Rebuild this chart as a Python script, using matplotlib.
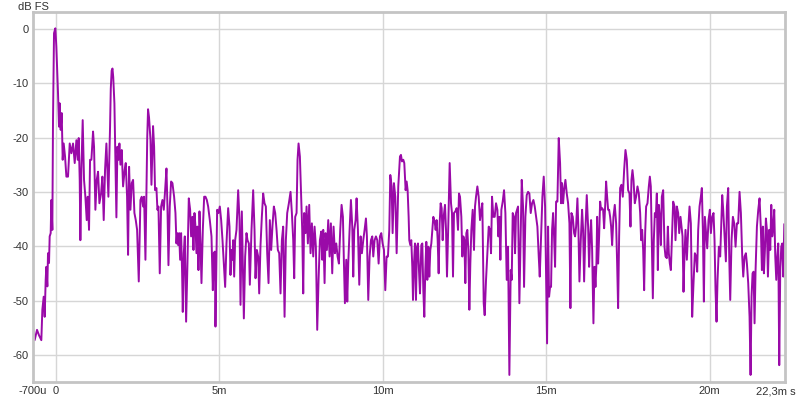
import matplotlib
matplotlib.use("Agg")
import matplotlib.pyplot as plt
from matplotlib.transforms import ScaledTranslation

# impulse response: time in ms, level in dB FS
time_ms = [
    -0.700, -0.643, -0.571, -0.510, -0.439, -0.408, -0.367, -0.337, -0.306, -0.286,
    -0.255, -0.235, -0.204, -0.184, -0.153, -0.133, -0.102, -0.082, -0.051, -0.010,
    0.020, 0.071, 0.102, 0.122, 0.153, 0.184, 0.214, 0.245, 0.286, 0.327,
    0.377, 0.429, 0.480, 0.531, 0.582, 0.633, 0.673, 0.704, 0.735, 0.755,
    0.786, 0.826, 0.867, 0.908, 0.949, 0.980, 1.020, 1.051, 1.092, 1.143,
    1.173, 1.214, 1.255, 1.296, 1.337, 1.388, 1.428, 1.469, 1.510, 1.551,
    1.612, 1.663, 1.685, 1.712, 1.737, 1.760, 1.796, 1.826, 1.857, 1.888,
    1.918, 1.949, 1.980, 2.020, 2.061, 2.112,
    2.143, 2.183, 2.214, 2.245, 2.286, 2.326, 2.367, 2.408, 2.449, 2.490,
    2.541, 2.592, 2.632, 2.673, 2.704, 2.745, 2.775, 2.800, 2.825, 2.855,
    2.899, 2.929, 2.978, 3.010, 3.039, 3.081, 3.112, 3.143, 3.183, 3.224,
    3.265, 3.306, 3.347, 3.388, 3.418, 3.449, 3.489, 3.530, 3.571, 3.622,
    3.663, 3.694, 3.714, 3.745, 3.775, 3.806, 3.836, 3.867, 3.887, 3.918,
    3.949, 3.989, 4.030, 4.071, 4.112, 4.142, 4.183, 4.214, 4.245, 4.275,
    4.306, 4.337, 4.367, 4.398, 4.428, 4.459, 4.500, 4.541, 4.581, 4.622,
    4.663, 4.714, 4.765,
    4.806, 4.836, 4.867, 4.887, 4.918, 4.938, 4.979, 5.020, 5.061, 5.102,
    5.142, 5.183, 5.224, 5.275, 5.316, 5.346, 5.377, 5.408, 5.428, 5.459,
    5.489, 5.530, 5.581, 5.622, 5.653, 5.693, 5.724, 5.755, 5.795, 5.836,
    5.867, 5.908, 5.938, 5.989, 6.040, 6.081, 6.112, 6.152, 6.193, 6.224,
    6.265, 6.305, 6.346, 6.387, 6.428, 6.469, 6.510, 6.550, 6.591, 6.632,
    6.673, 6.714, 6.755, 6.795, 6.836, 6.877, 6.918, 6.958, 7.000, 7.040,
    7.081, 7.132, 7.183, 7.224, 7.265, 7.295, 7.326, 7.367, 7.397, 7.428,
    7.469, 7.509, 7.540, 7.571,
    7.601, 7.642, 7.673, 7.713, 7.754, 7.795, 7.836, 7.877, 7.918, 7.958,
    7.999, 8.040, 8.081, 8.122, 8.152, 8.183, 8.224, 8.254, 8.295, 8.336,
    8.377, 8.417, 8.458, 8.499, 8.540, 8.581, 8.622, 8.662, 8.703, 8.744,
    8.785, 8.816, 8.846, 8.887, 8.918, 8.948, 8.989, 9.030, 9.071, 9.101,
    9.132, 9.173, 9.203, 9.244, 9.285, 9.326, 9.366, 9.407, 9.448, 9.489,
    9.519, 9.560, 9.601, 9.642, 9.683, 9.713, 9.754, 9.795, 9.836, 9.877,
    9.917, 9.958, 9.999, 10.040, 10.081, 10.121, 10.162, 10.203, 10.234, 10.275,
    10.305, 10.346, 10.387, 10.428, 10.478, 10.530, 10.560, 10.591, 10.632, 10.662,
    10.703, 10.734, 10.764, 10.795, 10.815, 10.846, 10.876, 10.907, 10.928, 10.958,
    10.989, 11.019, 11.050, 11.081, 11.111, 11.142, 11.183, 11.213, 11.244, 11.274,
    11.305, 11.336, 11.366, 11.397, 11.427, 11.458, 11.489, 11.519, 11.550, 11.591,
    11.621, 11.652, 11.683, 11.713, 11.744, 11.774, 11.805, 11.836, 11.866, 11.907,
    11.938, 11.968, 12.009, 12.050, 12.091, 12.121, 12.152, 12.182, 12.223, 12.264,
    12.305, 12.335, 12.366, 12.407, 12.437, 12.468, 12.499, 12.529, 12.560, 12.590,
    12.621, 12.652, 12.682, 12.713, 12.754, 12.794, 12.825, 12.856, 12.897, 12.937,
    12.978, 13.019, 13.049,
    13.091, 13.121, 13.162, 13.203, 13.244, 13.284, 13.315, 13.346, 13.386, 13.427,
    13.468, 13.509, 13.539, 13.570, 13.601, 13.631, 13.672, 13.713, 13.754, 13.795,
    13.835, 13.876, 13.917, 13.948, 13.978, 14.019, 14.050, 14.080, 14.111, 14.141,
    14.182, 14.223, 14.254, 14.294, 14.325, 14.366, 14.407, 14.448, 14.488, 14.529,
    14.570, 14.611, 14.652, 14.692, 14.733, 14.774, 14.805, 14.846, 14.886, 14.927,
    14.968, 14.998, 15.029, 15.060, 15.090, 15.121, 15.151, 15.182, 15.213, 15.243,
    15.274, 15.305, 15.345, 15.386, 15.427, 15.457, 15.488, 15.519, 15.549, 15.590,
    15.631, 15.672, 15.713, 15.743, 15.774, 15.815, 15.856,
    15.886, 15.917, 15.957, 15.988, 16.019, 16.060, 16.100, 16.131, 16.162, 16.202,
    16.243, 16.284, 16.315, 16.345, 16.376, 16.407, 16.447, 16.478, 16.509, 16.539,
    16.560, 16.590, 16.621, 16.652, 16.682, 16.713, 16.743, 16.774, 16.805, 16.835,
    16.866, 16.896, 16.927, 16.958, 16.988, 17.019, 17.059, 17.100, 17.141, 17.172,
    17.202, 17.233, 17.264, 17.304, 17.345, 17.386, 17.427, 17.468, 17.508, 17.549,
    17.580, 17.610, 17.641, 17.672, 17.712, 17.753, 17.794, 17.835, 17.876, 17.906,
    17.937, 17.968, 17.998, 18.029, 18.059, 18.100, 18.141, 18.172, 18.202, 18.233,
    18.264, 18.294, 18.325, 18.355, 18.386, 18.417, 18.447, 18.478, 18.509, 18.539,
    18.580, 18.621,
    18.651, 18.692, 18.723, 18.753, 18.784, 18.815, 18.855, 18.886, 18.927, 18.957,
    18.998, 19.039, 19.070, 19.110, 19.141, 19.172, 19.202, 19.233, 19.263, 19.304,
    19.345, 19.386, 19.427, 19.467, 19.508, 19.549, 19.590, 19.620, 19.651, 19.692,
    19.733, 19.763, 19.794, 19.825, 19.855, 19.886, 19.927, 19.967, 20.008, 20.039,
    20.080, 20.120, 20.151, 20.181, 20.212, 20.243, 20.284, 20.324, 20.355, 20.386,
    20.416, 20.457, 20.498, 20.529, 20.569, 20.600, 20.631, 20.671, 20.712, 20.753,
    20.794, 20.835, 20.875, 20.916, 20.957, 20.998, 21.029, 21.069, 21.110, 21.141,
    21.181, 21.222, 21.253, 21.283, 21.314, 21.345, 21.375, 21.406, 21.447, 21.488,
    21.528, 21.569, 21.600, 21.630, 21.661, 21.692, 21.722, 21.753, 21.784, 21.824,
    21.855, 21.886, 21.916, 21.947, 21.977, 22.008, 22.039, 22.069, 22.100, 22.130,
    22.161, 22.192, 22.222, 22.253, 22.284,
]

level_db = [
    -54.8, -57.3, -55.4, -56.4, -57.3, -51.7, -49.3, -53.0, -46.2, -43.8,
    -47.4, -41.3, -43.1, -38.2, -37.6, -31.5, -37.0, -16.8, -0.8, 0.1,
    -3.3, -11.8, -18.0, -13.7, -18.6, -15.5, -24.1, -21.1, -23.5, -27.2,
    -27.2, -21.1, -22.9, -21.1, -24.7, -20.5, -24.1, -20.1, -27.8, -38.9,
    -25.9, -16.8, -27.8, -30.9, -35.2, -30.9, -37.0, -24.1, -24.1, -18.9,
    -21.7, -33.3, -27.8, -26.3, -32.1, -30.3, -27.2, -35.2, -25.9, -21.1,
    -30.9, -18.0, -11.0, -7.7, -7.3, -8.9, -13.7, -24.1, -34.7, -21.7,
    -24.1, -21.1, -25.0, -22.3, -29.0, -25.9,
    -24.7, -30.9, -41.6, -25.4, -33.3, -28.4, -27.8, -33.9, -35.2, -37.0,
    -46.5, -31.5, -30.9, -32.7, -30.9, -42.5, -30.9, -20.0, -14.8, -16.3,
    -20.4, -28.7, -17.9, -21.7, -29.7, -29.3, -33.3, -32.7, -45.0, -32.7,
    -31.5, -33.3, -29.7, -25.7, -32.7, -43.5, -32.7, -28.1, -28.4, -30.9,
    -33.9, -39.5, -37.6, -39.8, -37.6, -42.5, -37.6, -45.0, -52.1, -41.3,
    -38.2, -53.9, -43.2, -31.2, -33.3, -38.2, -34.6, -40.7, -33.9, -36.4,
    -41.3, -36.4, -44.4, -33.6, -39.5, -46.8, -37.0, -30.9, -30.9, -31.5,
    -32.7, -35.2, -38.2,
    -48.1, -41.3, -41.0, -54.8, -41.9, -33.3, -33.9, -32.7, -35.2, -38.9,
    -43.2, -47.5, -39.5, -33.0, -36.4, -45.3, -40.7, -42.5, -38.9, -45.6,
    -38.9, -37.0, -29.7, -35.2, -50.8, -33.6, -43.2, -53.3, -41.9, -37.6,
    -38.9, -39.5, -47.1, -37.0, -29.7, -37.0, -45.9, -40.7, -41.9, -48.7,
    -39.8, -34.6, -30.3, -32.1, -32.7, -41.3, -46.8, -35.2, -40.7, -36.1,
    -32.7, -33.9, -37.0, -40.7, -41.3, -48.7, -38.9, -36.4, -53.0, -38.9,
    -33.9, -32.1, -30.0, -33.9, -38.9, -45.9, -34.6, -33.9, -24.1, -21.1,
    -23.5, -30.9, -37.0, -48.7,
    -33.9, -37.6, -32.7, -39.5, -32.4, -41.3, -35.8, -41.9, -36.4, -40.1,
    -55.4, -46.2, -38.9, -37.3, -42.5, -37.0, -46.8, -37.6, -40.7, -35.2,
    -41.9, -35.8, -45.0, -36.4, -41.3, -39.5, -41.9, -43.2, -37.0, -32.4,
    -34.6, -43.2, -50.5, -42.5, -50.2, -43.2, -37.0, -31.5, -36.4, -45.6,
    -37.0, -35.2, -31.2, -37.0, -47.1, -38.2, -41.3, -38.9, -37.0, -34.9,
    -38.2, -49.9, -41.9, -38.9, -38.2, -41.9, -38.9, -38.2, -38.9, -43.2,
    -38.2, -37.6, -39.5, -40.7, -48.1, -41.9, -41.9, -37.0, -26.9, -29.0,
    -37.6, -28.4, -30.9, -41.3, -29.0, -23.5, -23.2, -24.4, -24.1, -24.7,
    -29.7, -28.1, -29.7, -34.6, -38.9, -39.8, -38.9, -43.8, -49.9, -43.2,
    -39.5, -49.9, -40.1, -39.5, -44.4, -48.7, -39.8, -39.5, -48.1, -53.0,
    -44.4, -39.2, -46.2, -40.1, -45.6, -40.7, -39.5, -37.0, -34.6, -35.5,
    -37.0, -35.2, -38.9, -45.0, -35.8, -32.1, -33.0, -38.9, -34.6, -32.4,
    -37.0, -45.6, -35.8, -24.7, -32.1, -33.9, -45.6, -33.9, -33.6, -33.0,
    -37.0, -30.3, -30.9, -34.6, -41.9, -38.2, -38.9, -46.8, -37.6, -37.0,
    -40.7, -51.7, -43.2, -37.0, -33.3, -40.7, -32.7, -30.9, -29.0, -30.9,
    -35.2, -33.3, -32.1,
    -50.5, -52.7, -46.2, -41.3, -36.4, -37.0, -41.3, -30.9, -34.6, -34.6,
    -32.1, -33.3, -38.2, -34.6, -42.5, -33.3, -31.8, -29.7, -33.9, -46.2,
    -40.1, -63.7, -44.4, -46.2, -33.9, -34.6, -41.3, -33.9, -33.3, -32.7,
    -50.5, -37.0, -27.8, -32.7, -47.5, -34.6, -30.6, -30.0, -30.3, -33.9,
    -32.1, -31.5, -32.7, -34.6, -36.4, -41.9, -45.6, -38.2, -30.9, -27.2,
    -32.7, -45.0, -57.9, -36.4, -49.3, -47.5, -47.5, -37.0, -33.9, -38.2,
    -43.8, -31.8, -31.8, -20.1, -24.7, -32.1, -28.4, -32.1, -29.7, -27.8,
    -30.3, -32.1, -35.8, -51.4, -33.9, -34.6, -37.6,
    -38.2, -36.4, -31.2, -37.0, -46.5, -38.9, -33.3, -37.0, -46.5, -37.0,
    -30.6, -36.4, -43.8, -38.2, -35.2, -40.7, -54.2, -43.8, -47.5, -43.2,
    -34.6, -43.2, -38.2, -31.8, -33.3, -33.0, -33.3, -36.7, -32.7, -28.1,
    -30.9, -33.3, -33.3, -34.6, -36.4, -39.8, -34.6, -32.4, -35.8, -43.2,
    -51.4, -38.2, -29.3, -28.7, -30.9, -26.0, -22.3, -24.1, -29.7, -30.3,
    -36.4, -27.8, -26.0, -27.8, -32.1, -30.9, -29.0, -30.3, -33.9, -38.9,
    -37.0, -40.7, -48.1, -37.6, -32.7, -32.1, -29.0, -27.2, -29.0, -38.9,
    -49.6, -38.9, -33.9, -34.6, -30.3, -44.4, -32.4, -34.6, -39.8, -30.9,
    -29.7, -40.1,
    -41.9, -42.2, -36.4, -41.3, -43.2, -44.4, -37.0, -31.8, -32.7, -38.9,
    -32.7, -33.9, -37.6, -34.6, -36.4, -38.2, -48.4, -41.3, -37.0, -42.5,
    -37.0, -32.7, -35.8, -53.0, -46.8, -41.3, -41.9, -44.7, -37.0, -32.7,
    -30.9, -29.3, -37.0, -50.2, -34.6, -37.0, -40.4, -35.2, -33.3, -37.6,
    -34.6, -33.9, -38.9, -48.1, -53.9, -46.2, -40.1, -41.9, -36.4, -30.6,
    -33.3, -38.2, -42.8, -32.7, -29.3, -41.9, -49.9, -38.9, -34.6, -35.8,
    -40.1, -35.8, -35.8, -30.0, -33.9, -41.9, -45.6, -41.9, -41.3, -43.2,
    -46.8, -53.0, -63.7, -49.3, -45.0, -44.7, -54.2, -44.4, -36.4, -33.3,
    -31.2, -37.0, -44.4, -36.4, -45.0, -40.7, -34.9, -37.0, -45.6, -37.0,
    -40.7, -32.4, -38.2, -36.4, -33.3, -41.9, -46.2, -41.9, -39.5, -61.9,
    -44.4, -40.1, -39.5, -45.6, -36.0,
]

tick_pos = [-0.7, 0, 5, 10, 15, 20, 22.3]
tick_text = ["-700u", "0", "5m", "10m", "15m", "20m", "22,3m s"]
db_ticks = [0, -10, -20, -30, -40, -50, -60]

plt.rcParams['font.family'] = ['Liberation Sans', 'DejaVu Sans']

fig = plt.figure(figsize=(8, 4), dpi=100)
ax = fig.add_axes([0.041, 0.045, 0.94, 0.925])

# grid lines first, curve on top
for x in tick_pos[1:-1]:
    ax.axvline(x, color='#d6d6d6', lw=1, zorder=0)
for y in db_ticks:
    ax.axhline(y, color='#d6d6d6', lw=1, zorder=0)

ax.plot(time_ms, level_db, color='#9a0aa8', lw=1.4, zorder=2)

ax.set_xlim(-0.7, 22.3)
ax.set_ylim(-65, 3.1)
ax.set_xticks(tick_pos)
ax.set_xticklabels(tick_text)
ax.set_yticks(db_ticks)
ax.set_yticklabels([str(v) for v in db_ticks])
ax.tick_params(length=0, labelsize=8, labelcolor='#333333', pad=3)

# last label sits a bit left of the frame edge
last = ax.get_xticklabels()[-1]
last.set_transform(last.get_transform() + ScaledTranslation(-9 / 100, 0, fig.dpi_scale_trans))

for s in ax.spines.values():
    s.set_color('#c4c4c4')
    s.set_linewidth(2)

fig.text(0.022, 0.995, 'dB FS', fontsize=8, color='#333333', va='top')

fig.savefig('out.png', dpi=100, facecolor='white')
